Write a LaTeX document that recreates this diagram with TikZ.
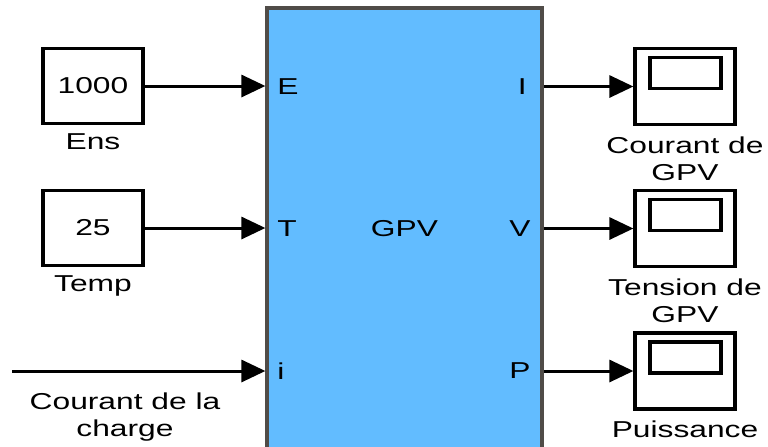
\documentclass[tikz,border=0pt]{standalone}
\usepackage{fontspec}
\newfontfamily\simfont[FakeStretch=1.38]{Liberation Sans}
\usepackage{xcolor}
\usepackage{tikz}
\usetikzlibrary{arrows.meta, positioning, calc}
\definecolor{blkblue}{RGB}{98,188,255}
\definecolor{blkedge}{RGB}{80,76,72}
\tikzset{
  every node/.style={font=\simfont\fontsize{11.5}{13.5}\selectfont},
  constblk/.style={rectangle, draw=black, fill=white, line width=1.6pt,
                   minimum width=50pt, minimum height=37.5pt, inner sep=0pt},
  scopeblk/.style={rectangle, draw=black, fill=white, line width=1.6pt,
                   minimum width=50pt, minimum height=38pt, inner sep=0pt,
                   path picture={\draw[line width=1.6pt]
                     ([shift={(15,9)}]path picture bounding box.north west) rectangle
                     ([shift={(-14,40)}]path picture bounding box.north east);}},
  subsys/.style={rectangle, draw=blkedge, fill=blkblue, line width=1.6pt,
                 minimum width=137.5pt, minimum height=221pt, inner sep=0pt},
  port/.style={inner sep=0pt},
  blklabel/.style={align=center, inner sep=0pt},
  sig/.style={-{Triangle[length=12pt,width=11pt]}, line width=1.5pt},
}
\begin{document}
\begin{tikzpicture}[x=0.5pt,y=-0.5pt]
  \clip (0,0) rectangle (768,446);
  \fill[white] (0,0) rectangle (768,446);

  % GPV subsystem
  \node[subsys] (gpv) at (404.5,229) {GPV};
  \node[port, anchor=west] (pE) at (277,87)  {E};
  \node[port, anchor=west] (pT) at (277,229) {T};
  \node[port, anchor=west] (pi) at (277,371) {i};
  \node[port, anchor=east] (pI) at (527,87)  {I};
  \node[port, anchor=east] (pV) at (531,229) {V};
  \node[port, anchor=east] (pP) at (531,371) {P};

  % inputs
  \node[constblk] (ens)  at (93,86)  {1000};
  \node[constblk] (temp) at (93,228) {25};
  \node[blklabel, below=4pt of ens]  (ensl)  {Ens};
  \node[blklabel, below=4pt of temp] (templ) {Temp};
  \coordinate (chg) at (12,371);
  \node[blklabel, anchor=north] (chgl) at (125,392) {Courant de la\\charge};

  % outputs
  \node[scopeblk] (sc1) at (685,86.5)  {};
  \node[scopeblk] (sc2) at (685,228.5) {};
  \node[scopeblk] (sc3) at (685,371)   {};
  \node[blklabel, below=5pt of sc1] (sc1l) {Courant de\\GPV};
  \node[blklabel, below=5pt of sc2] (sc2l) {Tension de\\GPV};
  \node[blklabel, below=5pt of sc3] (sc3l) {Puissance};

  \draw[sig] (ens.east)  -- (ens.east -| gpv.west);
  \draw[sig] (temp.east) -- (temp.east -| gpv.west);
  \draw[sig] (chg)       -- (chg -| gpv.west);
  \draw[sig] (gpv.east |- sc1.west) -- (sc1.west);
  \draw[sig] (gpv.east |- sc2.west) -- (sc2.west);
  \draw[sig] (gpv.east |- sc3.west) -- (sc3.west);
\end{tikzpicture}
\end{document}
